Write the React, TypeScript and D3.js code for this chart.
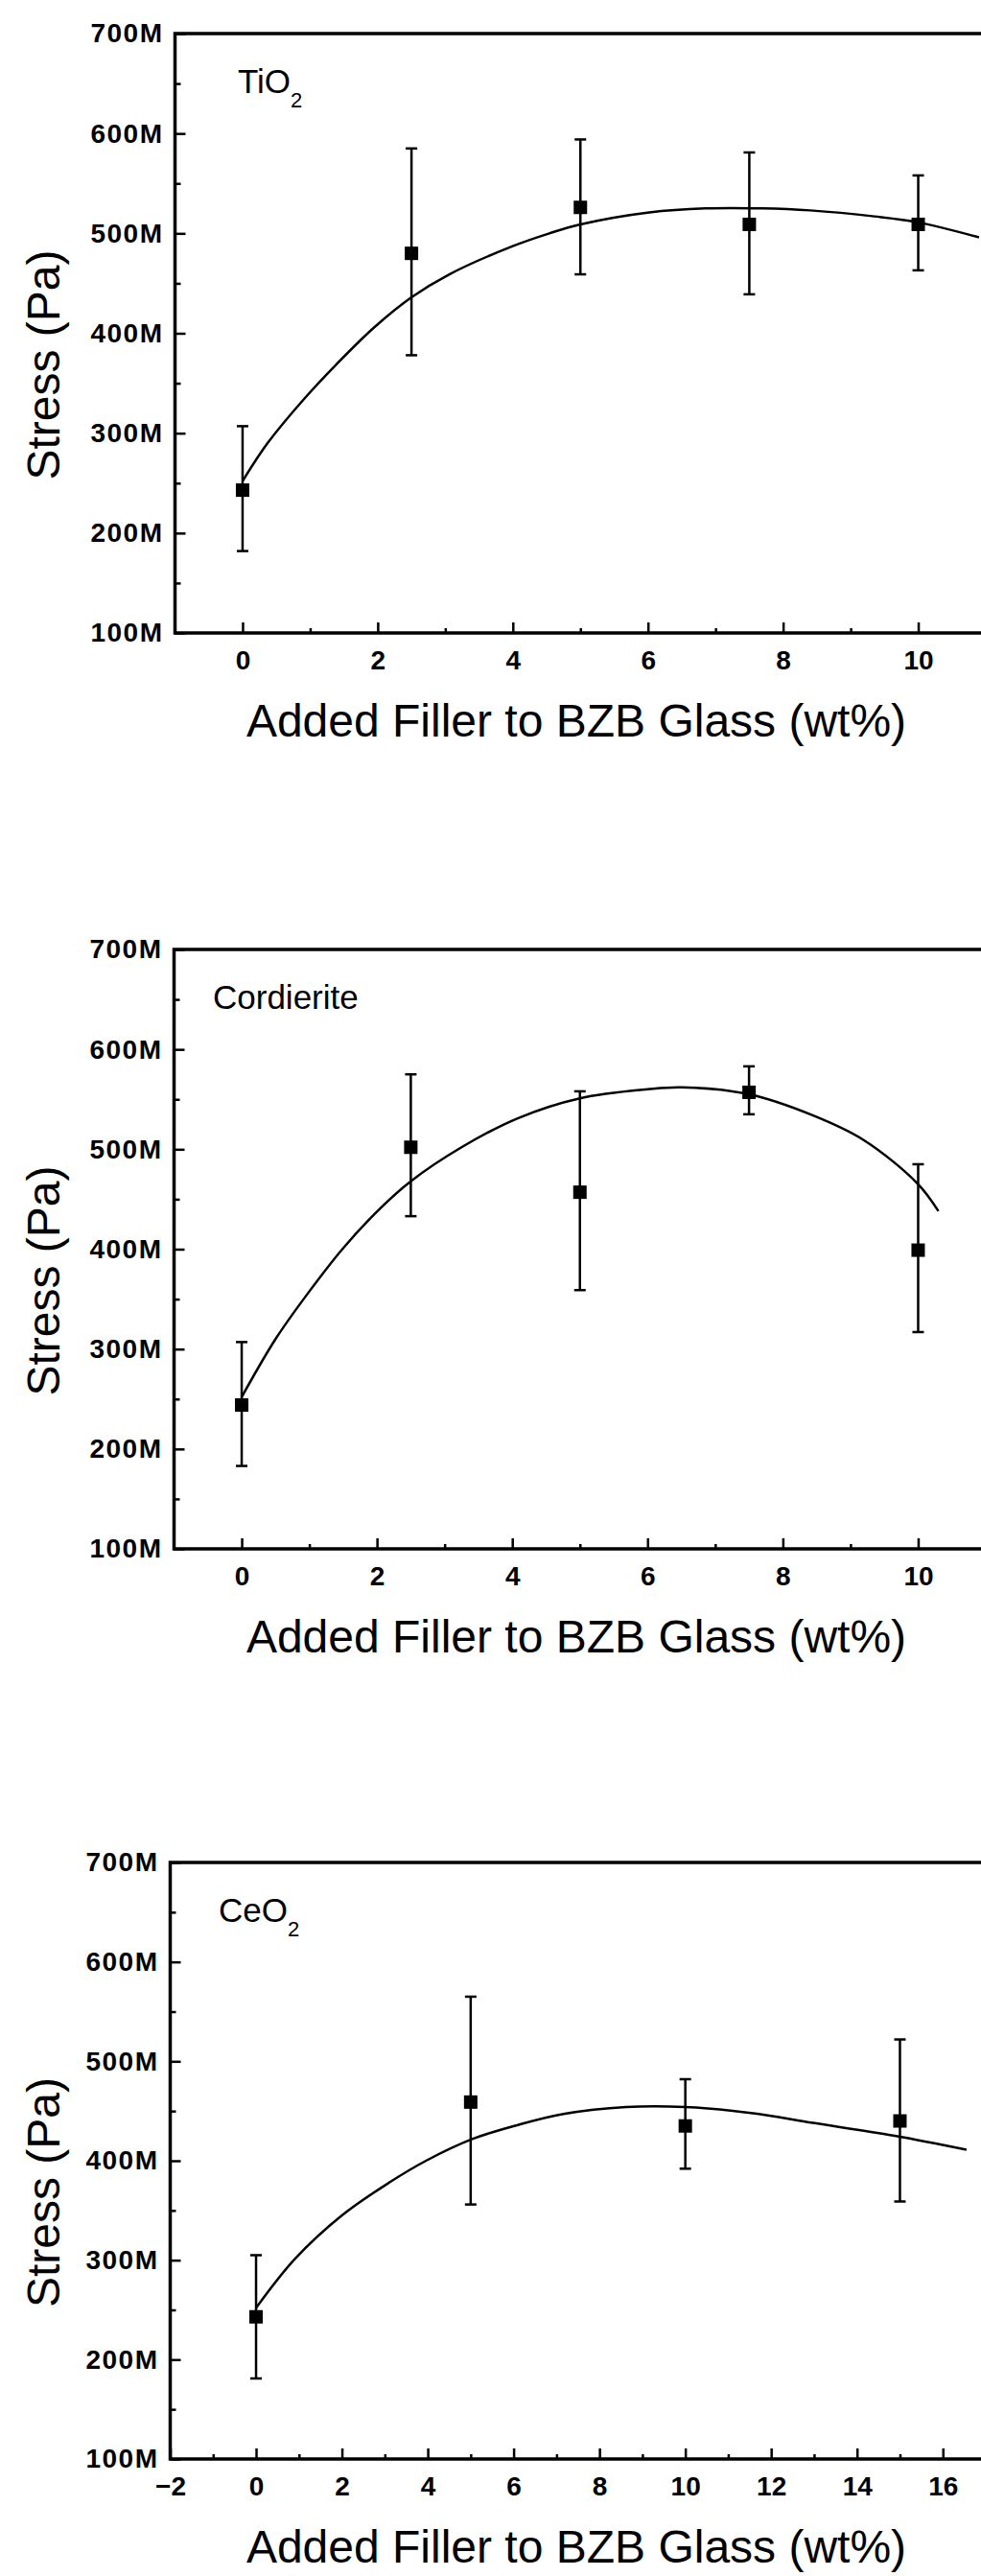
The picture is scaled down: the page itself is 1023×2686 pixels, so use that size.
import * as d3 from "d3";
import { useEffect, useRef } from "react";

const WIDTH = 1023;
const HEIGHT = 2686;

// Stress in MPa, filler in wt%
const stressTicks = [100, 200, 300, 400, 500, 600, 700];
const stressMinor = [150, 250, 350, 450, 550, 650];

const fillerTicksA = [0, 2, 4, 6, 8, 10];
const fillerMinorA = [1, 3, 5, 7, 9];
const fillerTicksB = [-2, 0, 2, 4, 6, 8, 10, 12, 14, 16];
const fillerMinorB = [-1, 1, 3, 5, 7, 9, 11, 13, 15];

// TiO2
const tioX = [0, 2.5, 5, 7.5, 10];
const tioStress = [243, 480, 526, 509, 509];
const tioUpper = [307, 585, 594, 581, 558];
const tioLower = [182, 378, 459, 439, 463];
const tioFitX = [0, 0.37, 0.92, 1.39, 1.95, 2.5, 3.06, 3.99, 4.54, 5, 6.02, 6.85, 7.69, 8.4, 9.35, 10, 10.9];
const tioFitY = [252, 290, 335, 369, 406, 436, 459, 487, 500, 509, 521, 525, 525, 523, 517, 511, 496];

// Cordierite
const cordX = [0, 2.5, 5, 7.5, 10];
const cordStress = [244, 502, 457, 557, 399];
const cordUpper = [307, 575, 558, 583, 485];
const cordLower = [183, 433, 359, 535, 317];
const cordFitX = [0, 0.5, 0.97, 1.5, 2.05, 2.5, 3.25, 4.08, 5, 6, 6.5, 7.5, 8.44, 9.2, 10, 10.3];
const cordFitY = [252, 310, 355, 401, 441, 468, 502, 531, 551, 560, 562, 555, 534, 509, 465, 438];

// CeO2
const ceoX = [0, 5, 10, 15];
const ceoStress = [243, 459, 435, 440];
const ceoUpper = [305, 565, 482, 522];
const ceoLower = [181, 356, 392, 359];
const ceoFitX = [0, 0.9, 2, 3.1, 3.96, 5.05, 6.1, 7.16, 8.62, 10, 11.53, 12.98, 14.88, 16.55];
const ceoFitY = [252, 301, 345, 378, 400, 422, 436, 447, 454, 454, 448, 438, 425, 411];

const FONT = "'Liberation Sans', Arial, sans-serif";

const panels = [
    {
        name: "TiO", sub: "2", labelX: 248,
        left: 182.5, top: 35, height: 625,
        xDomain: [-1, 11], xTicks: fillerTicksA, xMinor: fillerMinorA,
        xs: tioX, ys: tioStress, hi: tioUpper, lo: tioLower, fitX: tioFitX, fitY: tioFitY,
    },
    {
        name: "Cordierite", sub: "", labelX: 222,
        left: 181.5, top: 990, height: 625,
        xDomain: [-1, 11], xTicks: fillerTicksA, xMinor: fillerMinorA,
        xs: cordX, ys: cordStress, hi: cordUpper, lo: cordLower, fitX: cordFitX, fitY: cordFitY,
    },
    {
        name: "CeO", sub: "2", labelX: 228,
        left: 177.5, top: 1942, height: 622,
        xDomain: [-2, 17], xTicks: fillerTicksB, xMinor: fillerMinorB,
        xs: ceoX, ys: ceoStress, hi: ceoUpper, lo: ceoLower, fitX: ceoFitX, fitY: ceoFitY,
    },
];

const drawPanel = (svg, p) => {
    const right = 1028;
    const bottom = p.top + p.height;
    const x = d3.scaleLinear().domain(p.xDomain).range([p.left, right]);
    const y = d3.scaleLinear().domain([100, 700]).range([bottom, p.top]);

    const g = svg.append("g");

    // frame
    g.append("rect")
        .attr("x", p.left)
        .attr("y", p.top)
        .attr("width", right - p.left)
        .attr("height", p.height)
        .attr("fill", "none")
        .attr("stroke", "#000")
        .attr("stroke-width", 3.5);

    // bottom axis, ticks pointing inward
    const xAxis = g.append("g")
        .attr("transform", `translate(0,${bottom})`)
        .call(d3.axisBottom(x).tickValues(p.xTicks).tickSize(-11).tickPadding(18).tickFormat(d3.format("d")));
    g.append("g")
        .attr("transform", `translate(0,${bottom})`)
        .call(d3.axisBottom(x).tickValues(p.xMinor).tickSize(-5).tickFormat(() => ""));

    const yAxis = g.append("g")
        .attr("transform", `translate(${p.left},0)`)
        .call(d3.axisLeft(y).tickValues(stressTicks).tickSize(-11).tickPadding(12).tickFormat((d) => `${d}M`));
    g.append("g")
        .attr("transform", `translate(${p.left},0)`)
        .call(d3.axisLeft(y).tickValues(stressMinor).tickSize(-6).tickFormat(() => ""));

    g.selectAll(".domain").remove();
    g.selectAll(".tick line").attr("stroke", "#000").attr("stroke-width", 2.5);
    [xAxis, yAxis].forEach((a) =>
        a.selectAll("text")
            .attr("font-family", FONT)
            .attr("font-size", 28)
            .attr("font-weight", "bold")
            .attr("fill", "#000")
    );
    yAxis.selectAll("text").attr("letter-spacing", 1.5);

    // fitted curve
    const fit = p.fitX.map((d, i) => ({ x: d, y: p.fitY[i] }));
    g.append("path")
        .datum(fit)
        .attr("fill", "none")
        .attr("stroke", "#000")
        .attr("stroke-width", 2.5)
        .attr("d", d3.line().x((d) => x(d.x)).y((d) => y(d.y)).curve(d3.curveCatmullRom.alpha(0.5)));

    // error bars
    const pts = p.xs.map((d, i) => ({ x: d, y: p.ys[i], hi: p.hi[i], lo: p.lo[i] }));
    const bars = g.selectAll(".err").data(pts).join("g").attr("class", "err")
        .attr("stroke", "#000").attr("stroke-width", 2.5);
    bars.append("line")
        .attr("x1", (d) => x(d.x)).attr("x2", (d) => x(d.x))
        .attr("y1", (d) => y(d.hi)).attr("y2", (d) => y(d.lo));
    bars.append("line")
        .attr("x1", (d) => x(d.x) - 6).attr("x2", (d) => x(d.x) + 6)
        .attr("y1", (d) => y(d.hi)).attr("y2", (d) => y(d.hi));
    bars.append("line")
        .attr("x1", (d) => x(d.x) - 6).attr("x2", (d) => x(d.x) + 6)
        .attr("y1", (d) => y(d.lo)).attr("y2", (d) => y(d.lo));

    // square markers
    g.selectAll(".pt").data(pts).join("rect").attr("class", "pt")
        .attr("x", (d) => x(d.x) - 7)
        .attr("y", (d) => y(d.y) - 7)
        .attr("width", 14)
        .attr("height", 14)
        .attr("fill", "#000");

    // material label
    const label = g.append("text")
        .attr("x", p.labelX)
        .attr("y", p.top + 62)
        .attr("font-family", FONT)
        .attr("font-size", 35)
        .attr("fill", "#000")
        .text(p.name);
    if (p.sub) {
        label.append("tspan").attr("dy", 15).attr("font-size", 22).text(p.sub);
    }

    // axis titles
    g.append("text")
        .attr("transform", `translate(62,${p.top + p.height / 2 + 33}) rotate(-90)`)
        .attr("text-anchor", "middle")
        .attr("font-family", FONT)
        .attr("font-size", 48)
        .attr("fill", "#000")
        .text("Stress (Pa)");

    g.append("text")
        .attr("x", 601)
        .attr("y", bottom + 108)
        .attr("text-anchor", "middle")
        .attr("font-family", FONT)
        .attr("font-size", 48)
        .attr("fill", "#000")
        .text("Added Filler to BZB Glass (wt%)");
};

const App = () => {
    const svgRef = useRef(null);

    useEffect(() => {
        const svg = d3.select(svgRef.current);
        svg.selectAll("*").remove();
        svg.append("rect").attr("width", WIDTH).attr("height", HEIGHT).attr("fill", "#fff");
        panels.forEach((p) => drawPanel(svg, p));
    }, []);

    return (
        <svg
            ref={svgRef}
            width={WIDTH}
            height={HEIGHT}
            style={{ position: "absolute", left: 0, top: 0, display: "block" }}
        />
    );
};

export default App;
